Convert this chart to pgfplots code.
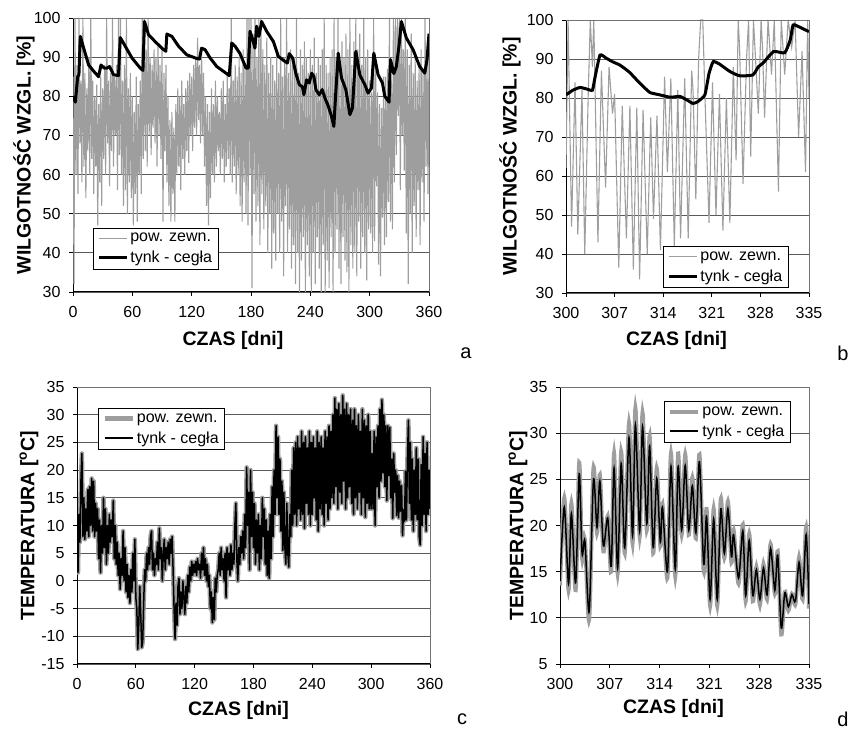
\documentclass[border=0pt]{standalone}
\usepackage{pgfplots}
\pgfplotsset{compat=1.18}
\usepackage{pgfplotstable}
\usepackage{fontspec}
\setmainfont{Liberation Sans}
\definecolor{sgray}{RGB}{158,158,158}
\definecolor{gridc}{RGB}{90,90,90}

\pgfplotsset{
  panel/.style={
    scale only axis, anchor=south west,
    axis x line*=bottom, axis y line*=left,
    axis line style={black, line width=1pt},
    tick align=outside, major tick length=4pt,
    tick style={black, line width=0.9pt},
    ymajorgrids, grid style={gridc, line width=0.9pt},
    /pgf/number format/assume math mode=true,
    ticklabel style={font=\fontsize{16}{16}\selectfont},
    xticklabel style={yshift=-7pt},
    yticklabel style={xshift=-5pt},
    legend style={font=\fontsize{16}{16}\selectfont, draw=black, fill=white, line width=0.8pt,
      inner xsep=4pt, inner ysep=3pt, row sep=4pt, cells={anchor=west}},
    legend cell align=left,
    legend image code/.code={\draw[##1] (0pt,0pt) -- (28pt,0pt);},
    after end axis/.code={\draw[black!55, line width=0.8pt] (rel axis cs:0,1) -- (rel axis cs:1,1) -- (rel axis cs:1,0);},
  },
  ylab/.style={every axis y label/.style={at={(rel axis cs:0,0.5)}, rotate=90, anchor=center, yshift=#1,
      font=\bfseries\fontsize{19.5}{20}\selectfont}},
  xlab/.style 2 args={every axis x label/.style={at={(rel axis cs:0.5,0)}, anchor=center, xshift=#1, yshift=#2,
      font=\bfseries\fontsize{19.5}{20}\selectfont}},
}

\pgfplotstableread[row sep=\\]{
d rh t\\
0 85 15\\ 1 32 1.5\\ 2 100 12\\ 3 60 7\\ 4 88 18\\ 5 55 23\\ 6 100 8\\ 7 68 15\\ 8 84 7.5\\ 9 58 13\\
10 100 9\\ 11 62 16.5\\ 12 86 8\\ 13 54 17\\ 14 82 10\\ 15 66 18.5\\ 16 90 9\\ 17 60 18\\ 18 100 8\\ 19 64 14\\
20 84 9\\ 21 55 13\\ 22 80 4\\ 23 62 11\\ 24 83 1.5\\ 25 47 10\\ 26 78 5\\ 27 58 15\\ 28 85 6\\ 29 52 13\\
30 82 3\\ 31 64 10\\ 32 88 5\\ 33 60 12\\ 34 100 7\\ 35 68 11\\ 36 84 8\\ 37 57 14.5\\ 38 86 4\\ 39 66 10\\
40 100 3\\ 41 62 7\\ 42 85 1\\ 43 70 5\\ 44 88 -1.5\\ 45 56 4\\ 46 100 1\\ 47 65 9\\ 48 100 0\\ 49 60 6\\
50 84 -2\\ 51 52 3\\ 52 88 -3\\ 53 56 1\\ 54 100 -4\\ 55 50 2\\ 56 82 -2\\ 57 58 5\\ 58 86 0\\ 59 54 7.5\\
60 80 -3\\ 61 47 -5\\ 62 76 -12.3\\ 63 55 -8\\ 64 85 -1\\ 65 48 -6\\ 66 78 -12\\ 67 60 -11\\ 68 84 -4\\ 69 55 2\\
70 100 0\\ 71 64 5\\ 72 100 2\\ 73 66 6\\ 74 92 3\\ 75 62 8\\ 76 100 9\\ 77 70 2\\ 78 90 5\\ 79 65 1\\
80 88 4\\ 81 72 3\\ 82 92 7\\ 83 68 2\\ 84 90 9.5\\ 85 62 4\\ 86 93 6\\ 87 70 0\\ 88 88 5\\ 89 64 7.5\\
90 92 2\\ 91 48 6\\ 92 86 4\\ 93 66 7\\ 94 88 3\\ 95 58 7.5\\ 96 80 5\\ 97 52 8\\ 98 74 2\\ 99 48 -5\\
100 76 -10.5\\ 101 55 -4\\ 102 72 -8\\ 103 48 -1\\ 104 78 0.5\\ 105 60 -6\\ 106 82 -2\\ 107 62 -5\\ 108 80 0\\ 109 56 -3\\
110 84 -6\\ 111 64 -1\\ 112 78 -4\\ 113 60 1\\ 114 82 -2\\ 115 66 2.5\\ 116 84 0\\ 117 63 3.5\\ 118 86 1\\ 119 70 3\\
120 85 1.5\\ 121 66 3.5\\ 122 88 1\\ 123 72 4\\ 124 90 2\\ 125 70 3\\ 126 95 0.5\\ 127 74 5\\ 128 88 2\\ 129 68 6\\
130 92 1\\ 131 70 4\\ 132 86 0\\ 133 62 3\\ 134 80 -1\\ 135 52 1\\ 136 78 -5\\ 137 47 -2\\ 138 76 -7.5\\ 139 54 -3\\
140 82 -7\\ 141 60 0.5\\ 142 78 -2\\ 143 58 1\\ 144 84 2\\ 145 62 5\\ 146 80 1\\ 147 66 6\\ 148 76 2\\ 149 60 4\\
150 82 0\\ 151 64 5\\ 152 84 -3\\ 153 58 6\\ 154 78 2\\ 155 62 5\\ 156 86 1\\ 157 64 6.5\\ 158 82 2\\ 159 60 5\\
160 100 3\\ 161 58 10\\ 162 84 14\\ 163 62 4\\ 164 88 0\\ 165 55 6\\ 166 85 3\\ 167 60 8\\ 168 90 5\\ 169 52 9\\
170 86 4\\ 171 48 12\\ 172 92 6\\ 173 58 20.5\\ 174 88 10\\ 175 50 16\\ 176 100 2\\ 177 47 20\\ 178 100 8\\ 179 60 16\\
180 100 6\\ 181 31 14\\ 182 96 3\\ 183 55 11\\ 184 100 5\\ 185 48 12\\ 186 90 2\\ 187 52 10\\ 188 100 4\\ 189 42 15\\
190 100 8\\ 191 55 13\\ 192 92 3\\ 193 46 11\\ 194 88 1\\ 195 52 9\\ 196 95 0.5\\ 197 40 12\\ 198 86 4\\ 199 50 17\\
200 90 8\\ 201 36 20\\ 202 88 12\\ 203 45 28\\ 204 84 15\\ 205 38 26\\ 206 92 12\\ 207 50 22\\ 208 86 9\\ 209 40 18\\
210 100 5.5\\ 211 48 16\\ 212 85 6\\ 213 34 3\\ 214 90 14\\ 215 52 5\\ 216 100 2.5\\ 217 40 12\\ 218 86 8\\ 219 46 20\\
220 92 10\\ 221 36 24\\ 222 88 12\\ 223 42 25\\ 224 90 10\\ 225 32 26\\ 226 100 13\\ 227 40 24\\ 228 86 11\\ 229 30 27\\
230 92 12\\ 231 38 25\\ 232 88 9.5\\ 233 44 26\\ 234 94 14\\ 235 30 24\\ 236 90 12\\ 237 42 27\\ 238 86 10\\ 239 34 25\\
240 92 12\\ 241 30 26\\ 242 88 15\\ 243 40 24\\ 244 95 11\\ 245 32 27\\ 246 86 9\\ 247 44 25\\ 248 90 13\\ 249 36 26\\
250 88 12\\ 251 30 24\\ 252 92 10\\ 253 42 27\\ 254 100 14\\ 255 30 26\\ 256 88 11\\ 257 38 28\\ 258 86 13\\ 259 31 27\\
260 90 15\\ 261 44 30\\ 262 92 14\\ 263 30 33\\ 264 100 17\\ 265 40 31\\ 266 90 13\\ 267 46 32\\ 268 100 16\\ 269 36 30\\
270 88 14\\ 271 32 33.5\\ 272 94 18\\ 273 44 31\\ 274 90 13\\ 275 38 32\\ 276 96 15\\ 277 35 30\\ 278 92 17\\ 279 30 31\\
280 100 14\\ 281 42 29\\ 282 88 12\\ 283 36 31\\ 284 94 15\\ 285 40 28\\ 286 100 13\\ 287 34 30\\ 288 92 16\\ 289 48 27\\
290 96 12\\ 291 36 31\\ 292 88 15\\ 293 44 29\\ 294 100 11.5\\ 295 40 28\\ 296 90 14\\ 297 33 30\\ 298 92 13\\ 299 46 27\\
300 84 13\\ 301 45 23\\ 302 81 13\\ 303 40 27\\ 304 100 10\\ 305 43 26\\ 306 88 17\\ 307 57 28\\ 308 81 15\\ 309 37 31\\
310 78 18\\ 311 34 32.7\\ 312 77 19.5\\ 313 49 30\\ 314 85 17\\ 315 42 28\\ 316 85 14.5\\ 317 44 28\\ 318 87 19\\ 319 53 27.7\\
320 100 15\\ 321 48 22\\ 322 84 11.3\\ 323 46 23\\ 324 100 16\\ 325 58 20\\ 326 100 11.8\\ 327 65 19\\ 328 100 11.4\\ 329 75 18\\
330 100 12.6\\ 331 56 17.2\\ 332 100 8.2\\ 333 70 12.8\\ 334 92 10.8\\ 335 61 19.8\\ 336 100 11\\ 337 45 22\\ 338 92 29\\ 339 32 14\\
340 88 25\\ 341 50 11\\ 342 96 22\\ 343 40 9\\ 344 86 20\\ 345 52 12\\ 346 90 24\\ 347 44 11\\ 348 84 22\\ 349 56 8\\
350 88 6.5\\ 351 42 21\\ 352 92 10\\ 353 58 26\\ 354 86 12\\ 355 48 23\\ 356 100 9\\ 357 62 25\\ 358 90 12\\ 359 55 20\\
360 92 13\\
}\yeardata

\pgfplotstableread[row sep=\\]{
t g b\\
300.0 13.5 14.0\\ 300.6 23.0 22.0\\ 301.2 13.0 13.7\\ 301.6 22.4 21.3\\ 302.2 13.0 13.8\\ 302.7 26.8 25.6\\
303.1 16.5 17.0\\ 303.5 18.5 18.3\\ 304.1 9.8 10.7\\ 304.7 26.2 24.9\\ 305.2 19.2 19.8\\ 305.6 25.5 24.8\\
306.1 17.2 17.8\\ 306.7 21.0 20.8\\ 307.2 15.0 15.6\\ 307.6 27.8 26.2\\ 308.1 14.8 15.4\\ 308.6 28.0 26.7\\
309.1 17.0 17.6\\ 309.7 31.1 29.5\\ 310.2 18.1 18.9\\ 310.6 32.7 30.9\\ 311.2 18.8 19.4\\ 311.6 32.2 30.7\\
312.2 19.5 20.2\\ 312.6 29.7 28.6\\ 313.1 17.0 17.6\\ 313.6 26.2 25.1\\ 314.1 17.8 18.2\\ 314.4 22.3 22.0\\
315.1 14.3 15.0\\ 315.6 27.8 26.4\\ 316.2 14.5 15.3\\ 316.6 27.8 26.4\\ 317.1 19.0 19.5\\ 317.6 27.7 26.5\\
318.1 19.0 19.5\\ 318.6 25.2 24.3\\ 319.1 18.6 19.2\\ 319.6 27.7 26.9\\ 320.2 15.0 15.8\\ 320.6 21.8 21.0\\
321.1 11.3 12.0\\ 321.6 21.8 20.7\\ 322.1 11.3 12.0\\ 322.6 22.9 21.8\\ 323.1 16.5 17.0\\ 323.6 22.6 21.8\\
324.1 16.0 16.6\\ 324.4 19.5 19.0\\ 325.1 13.7 14.3\\ 325.7 20.1 19.4\\ 326.1 11.8 12.4\\ 326.6 19.1 18.4\\
327.1 11.8 12.4\\ 327.6 15.5 15.2\\ 328.1 11.4 12.0\\ 328.6 15.8 15.4\\ 329.1 12.0 12.5\\ 329.6 18.0 17.5\\
330.2 12.6 13.0\\ 330.6 17.2 16.8\\ 331.1 8.2 8.9\\ 331.6 12.8 12.7\\ 332.1 10.8 11.2\\ 332.6 12.6 12.5\\
333.1 11.5 11.8\\ 333.6 16.5 16.0\\ 334.1 12.0 12.4\\ 334.6 19.8 19.0\\ 335.0 11.0 11.5\\
}\detailtemp

\begin{document}
\begin{tikzpicture}[x=1pt,y=1pt]
\path[use as bounding box] (0,0) rectangle (850,735);

% ---------- panel a ----------
\begin{axis}[panel, ylab=49pt, xlab={-18pt}{-48pt},
  at={(73pt,443pt)}, width=356pt, height=274pt,
  xmin=0, xmax=360, ymin=30, ymax=100,
  xtick={0,60,...,360}, ytick={30,40,...,100},
  xlabel={CZAS [dni]}, ylabel={WILGOTNOŚĆ WZGL. [\%]},
  legend style={at={(rel axis cs:0.056,0.234)}, anchor=north west}]
\addplot[sgray, line width=1.1pt] table[x=d, y=rh] {\yeardata};
\addlegendentry{pow. zewn.}
\addplot[black, line width=3pt, line join=round] coordinates {
(0,80)(2.4,78.5)(4.7,85)(6,85.5)(7.4,95.3)(10.8,92.3)(15.8,88)(20.9,86.4)(25.9,85)(28.3,88)
(31.6,87.2)(34.3,87.2)(37,87.6)(41,85.5)(46,85.3)(47.8,95)(52.8,92.8)(59.6,89.8)(68,87.2)(70.7,86.6)
(72.3,99.1)(76.4,95.7)(83,94)(89.8,92.3)(93.9,91.5)(94.9,95.9)(100,95.3)(106.7,92.8)(115,90.6)(123.5,89.8)
(127.8,89.5)(130,92.3)(133.6,91.9)(138.6,89.8)(145.4,87.6)(152,86.4)(158,85.3)(160.5,93.6)(163.9,92.8)(168.9,90.9)
(175,87.2)(177.3,87.2)(179,96.6)(181.7,94.5)(184,92.3)(185.7,97.9)(188,95.3)(190.8,99.1)(195.8,96.6)(202.6,94)
(207.6,90.2)(214.3,88.9)(216.8,88.5)(218.7,90.9)(222,89.8)(225.4,85.8)(228.8,83)(232,82.4)(233.5,80.4)(236.2,84.2)
(238.9,83.4)(241.3,85.9)(243.6,85.1)(245.6,81.7)(249,80.4)(252,81.7)(254.7,79.6)(258,77.6)(261.4,74.9)(263.8,72.3)
(265.5,80)(268.2,91)(271.5,84.7)(275.9,81.7)(280,75.3)(282.6,77)(286,91.5)(290,85.5)(295,83)(298.4,80.8)
(301.8,82.1)(304.2,91)(308.5,85.5)(312.9,83.4)(315.3,80)(319.6,78.5)(321,89.4)(324.4,85.8)(327,87.6)(329.8,93.2)
(332.1,99.1)(337.1,94.9)(343.9,91.9)(350.6,87.6)(355.7,85.9)(358,89.4)(360,96)};
\addlegendentry{tynk - cegła}
\end{axis}

% ---------- panel b ----------
\begin{axis}[panel, ylab=56pt, xlab={-11pt}{-47pt},
  at={(566pt,442pt)}, width=243pt, height=273pt,
  xmin=300, xmax=335, ymin=30, ymax=100,
  xtick={300,307,...,335}, ytick={30,40,...,100},
  xlabel={CZAS [dni]}, ylabel={WILGOTNOŚĆ WZGL. [\%]},
  legend style={at={(rel axis cs:0.399,0.172)}, anchor=north west}]
\addplot[sgray, line width=1.1pt] coordinates {
(300.0,62)(300.3,100)(300.8,47)(301.3,84)(301.7,45)(302.3,82)(302.7,40)(303.2,81)(303.5,100)(303.8,88)
(304.0,100)(304.6,43)(305.1,87)(305.7,57)(306.2,88)(306.7,76)(307.0,81)(307.6,36.5)(308.1,78)(308.7,44)
(309.2,78)(309.7,36)(310.2,77.5)(310.6,33.5)(311.1,77)(311.7,40)(312.2,75)(312.6,49)(313.1,75.5)(313.6,41)
(314.2,85.5)(314.6,61)(315.1,85)(315.6,42)(316.1,82)(316.5,44)(317.1,85)(317.6,44)(318.1,87)(318.3,82)
(318.7,54)(319.1,90)(319.4,100)(319.7,100)(320.0,81)(320.6,48)(321.1,84)(321.6,50)(322.1,81)(322.6,46)
(323.1,80)(323.6,48)(324.1,88)(324.5,64)(324.8,100)(325.0,93)(325.5,58)(326.0,90)(326.3,100)(326.6,65)
(327.0,100)(327.3,90)(327.7,76)(328.1,100)(328.3,93)(328.6,75)(329.1,100)(329.6,86)(330.0,100)(330.6,56)
(331.0,100)(331.5,86)(332.0,100)(332.5,93)(333.0,100)(333.5,70)(334.0,92)(334.5,61)(334.8,100)(335.0,80)};
\addlegendentry{pow. zewn.}
\addplot[black, line width=3pt, smooth, tension=0.3] coordinates {
(300,80.8)(301,82)(302,82.7)(303,82.3)(303.8,82)(304.2,85.5)(304.9,91)(305.8,90.2)(306.7,89.3)(307.7,88.5)
(308.5,87.5)(309.2,86.5)(310.1,84.8)(311.1,83)(312.1,81.4)(313.5,80.8)(315,80.2)(316.4,80.4)(317.4,79.5)(318.3,78.6)
(319,79.1)(320,80.8)(320.6,86.3)(321.2,89.3)(322.1,88.7)(323.6,86.8)(325,85.7)(326.9,85.9)(327.7,88)(328.4,89)
(329.9,91.9)(331.5,91.6)(332.3,94.9)(332.7,98.7)(333.5,98.3)(335,97)};
\addlegendentry{tynk - cegła}
\end{axis}

% ---------- panel c ----------
\begin{axis}[panel, ylab=48pt, xlab={-15pt}{-46pt},
  at={(77pt,71pt)}, width=353pt, height=277pt,
  xmin=0, xmax=360, ymin=-15, ymax=35,
  xtick={0,60,...,360}, ytick={-15,-10,...,35},
  xlabel={CZAS [dni]}, ylabel={TEMPERATURA [\textsuperscript{o}C]},
  legend style={at={(rel axis cs:0.0595,0.924)}, anchor=north west}]
\addplot[sgray, line width=4.5pt, line join=round] table[x=d, y=t] {\yeardata};
\addlegendentry{pow. zewn.}
\addplot[black, line width=1.5pt, line join=round] table[x=d, y=t] {\yeardata};
\addlegendentry{tynk - cegła}
\end{axis}

% ---------- panel d ----------
\begin{axis}[panel, ylab=42pt, xlab={-11pt}{-44pt},
  at={(560pt,71pt)}, width=249pt, height=277pt,
  xmin=300, xmax=335, ymin=5, ymax=35,
  xtick={300,307,...,335}, ytick={5,10,...,35},
  xlabel={CZAS [dni]}, ylabel={TEMPERATURA [\textsuperscript{o}C]},
  legend style={at={(rel axis cs:0.418,0.949)}, anchor=north west}]
\addplot[sgray, line width=4pt, smooth, tension=0.5] table[x=t, y=g] {\detailtemp};
\addlegendentry{pow. zewn.}
\addplot[black, line width=1.5pt, smooth, tension=0.5] table[x=t, y=b] {\detailtemp};
\addlegendentry{tynk - cegła}
\end{axis}

\node[font=\fontsize{20}{20}\selectfont] at (466,382) {a};
\node[font=\fontsize{20}{20}\selectfont] at (843,382) {b};
\node[font=\fontsize{20}{20}\selectfont] at (462,16) {c};
\node[font=\fontsize{20}{20}\selectfont] at (843,16) {d};
\end{tikzpicture}
\end{document}
